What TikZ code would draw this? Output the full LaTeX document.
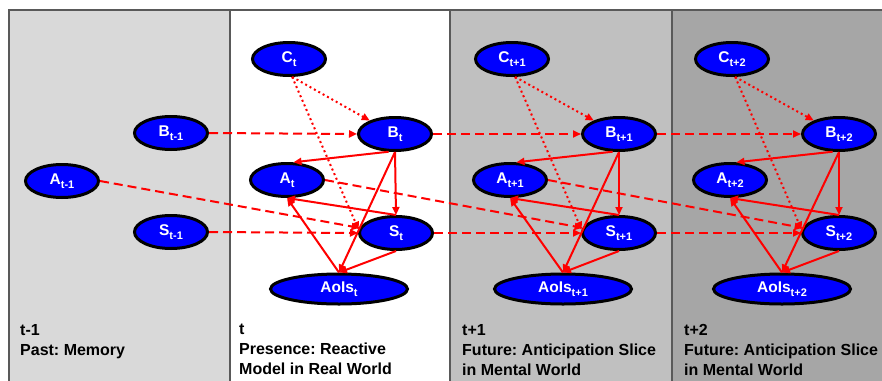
\documentclass[tikz,border=0pt]{standalone}
\usepackage{fontspec}
\setmainfont{Liberation Sans}
\usetikzlibrary{arrows.meta,positioning,shapes.geometric}
\frenchspacing

% subscript of a time slice
\newcommand{\slsub}[1]{\raisebox{-4pt}{\fontsize{11}{12}\selectfont #1}}

\begin{document}
\begin{tikzpicture}[x=1pt, y=-1pt, >={Triangle[length=8pt,width=7pt]},
    state/.style={ellipse,minimum width=73pt,minimum height=33pt,inner sep=0pt,line width=3pt,draw=black,
                  fill={rgb,255:red,0;green,0;blue,255},text=white,font=\fontsize{15.5}{18}\selectfont\bfseries},
    aois/.style={state,minimum width=137pt,minimum height=30pt},
    slice/.style={line width=1.5pt,draw=black!65},
    slicetext/.style={anchor=north west,align=left,inner sep=0pt,font=\fontsize{16}{20}\selectfont\bfseries},
    link/.style={line width=2pt,red},
    past/.style={link,dash pattern=on 9pt off 5pt},
    ctx/.style={link,dash pattern=on 2pt off 3pt},
   ]

    \useasboundingbox (0,0) rectangle (882,380);

    % the four time slices
    \path[slice, fill={rgb,255:red,217;green,217;blue,217}] (9,10) rectangle (230,384);
    \path[slice, fill=white] (230,10) rectangle (450,384);
    \path[slice, fill={rgb,255:red,192;green,192;blue,192}] (450,10) rectangle (672,384);
    \path[slice, fill={rgb,255:red,166;green,166;blue,166}] (672,10) rectangle (886,384);

    \node (lab0) [slicetext] at (20,324)  {t-1\\Past: Memory};
    \node (lab1) [slicetext] at (239,324) {t\\Presence: Reactive\\Model in Real World};
    \node (lab2) [slicetext] at (462,324) {t+1\\Future: Anticipation Slice\\in Mental World};
    \node (lab3) [slicetext] at (684,324) {t+2\\Future: Anticipation Slice\\in Mental World};

    % slice t-1
    \node (b0) [state] at (171,133) {B\slsub{t-1}};
    \node (a0) [state] at (62,181)  {A\slsub{t-1}};
    \node (s0) [state] at (171,232) {S\slsub{t-1}};

    % slice t
    \node (c1)    [state] at (289,59)  {C\slsub{t}};
    \node (b1)    [state] at (395,134) {B\slsub{t}};
    \node (a1)    [state] at (287,180) {A\slsub{t}};
    \node (s1)    [state] at (396,233) {S\slsub{t}};
    \node (aois1) [aois]  at (339,289) {AoIs\slsub{t}};

    % slice t+1
    \node (c2)    [state] at (512,59)  {C\slsub{t+1}};
    \node (b2)    [state] at (619,134) {B\slsub{t+1}};
    \node (a2)    [state] at (510,180) {A\slsub{t+1}};
    \node (s2)    [state] at (619,233) {S\slsub{t+1}};
    \node (aois2) [aois]  at (563,289) {AoIs\slsub{t+1}};

    % slice t+2
    \node (c3)    [state] at (732,59)  {C\slsub{t+2}};
    \node (b3)    [state] at (839,134) {B\slsub{t+2}};
    \node (a3)    [state] at (730,180) {A\slsub{t+2}};
    \node (s3)    [state] at (839,233) {S\slsub{t+2}};
    \node (aois3) [aois]  at (782,289) {AoIs\slsub{t+2}};

    % links inside a slice
    \draw[ctx] (c1.-80) edge[->] (b1.152) (c1.-80) edge[->] (s1.175);
    \draw[ctx] (c2.-80) edge[->] (b2.152) (c2.-80) edge[->] (s2.175);
    \draw[ctx] (c3.-80) edge[->] (b3.152) (c3.-80) edge[->] (s3.175);

    \draw[link] (b1.-110) edge[->] (a1.70) (b1.south) edge[->] (s1.north) (b1.south) edge[->] (aois1.north)
          (s1.north) edge[->] (a1.south) (aois1.north) edge[->] (a1.south) (s1.south) edge[->] (aois1.north);
    \draw[link] (b2.-110) edge[->] (a2.70) (b2.south) edge[->] (s2.north) (b2.south) edge[->] (aois2.north)
          (s2.north) edge[->] (a2.south) (aois2.north) edge[->] (a2.south) (s2.south) edge[->] (aois2.north);
    \draw[link] (b3.-110) edge[->] (a3.70) (b3.south) edge[->] (s3.north) (b3.south) edge[->] (aois3.north)
          (s3.north) edge[->] (a3.south) (aois3.north) edge[->] (a3.south) (s3.south) edge[->] (aois3.north);

    % links between slices
    \draw[past] (b0.east) edge[->] (b1.west) (a0.east) edge[->] (s1.172) (s0.east) edge[->] (s1.west);
    \draw[past] (b1.east) edge[->] (b2.west) (a1.east) edge[->] (s2.172) (s1.east) edge[->] (s2.west);
    \draw[past] (b2.east) edge[->] (b3.west) (a2.east) edge[->] (s3.172) (s2.east) edge[->] (s3.west);
   \end{tikzpicture}
\end{document}
